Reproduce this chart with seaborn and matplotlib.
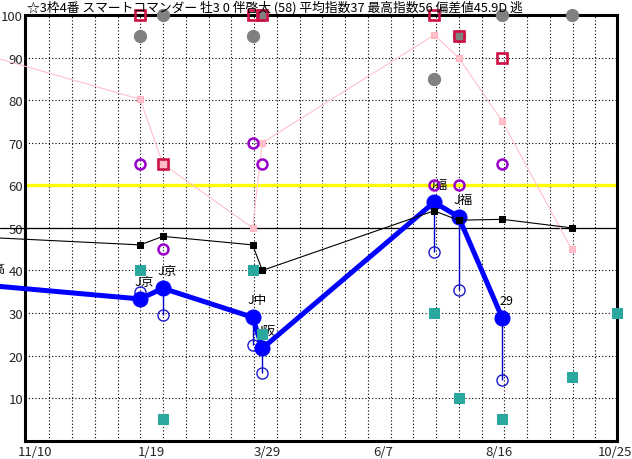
import numpy as np
import matplotlib
matplotlib.use("Agg")
import matplotlib.pyplot as plt
import seaborn as sns

# x = days counted from 11/10
race_day = [-26, 63.4, 77.2, 131.3, 137.2, 240.8, 255.6, 282.0]
index_val = [36.4, 33.3, 35.8, 29.0, 21.7, 56.0, 52.6, 28.8]
race_label = ["J高", "J京", "J京", "J中", "J阪", "J福", "J福", "29"]

low_day = [63.4, 77.2, 131.3, 137.2, 240.8, 255.6, 282.0]
low_val = [35.0, 29.6, 22.5, 15.9, 44.3, 35.5, 14.3]

avg_day = [-26, 63.4, 77.2, 131.3, 137.2, 240.8, 255.6, 282.0, 323.8]
avg_val = [47.7, 46, 48, 46, 40, 54, 51.8, 52, 50]

pink_day = [-26, 63.4, 77.2, 131.3, 137.2, 240.8, 255.6, 282.0, 323.8]
pink_val = [90.2, 80.2, 65, 50, 70, 95.3, 90, 75, 45]

purple_day = [63.4, 77.2, 131.3, 137.2, 240.8, 255.6, 282.0]
purple_val = [65, 45, 70, 65, 60, 60, 65]

red_day = [63.4, 77.2, 131.3, 137.2, 240.8, 255.6, 282.0]
red_val = [100, 65, 100, 100, 100, 95, 90]

gray_day = [63.4, 77.2, 131.3, 137.2, 240.8, 255.6, 282.0, 323.8]
gray_val = [95, 100, 95, 100, 85, 95, 100, 100]

teal_day = [63.4, 77.2, 131.3, 137.2, 240.8, 255.6, 282.0, 323.8, 351.1]
teal_val = [40, 5, 40, 25, 30, 10, 5, 15, 30]

tick_day = [0, 70, 140, 210, 280, 350]
tick_text = ["11/10", "1/19", "3/29", "6/7", "8/16", "10/25"]
y_ticks = [10, 20, 30, 40, 50, 60, 70, 80, 90, 100]

title = "☆3枠4番 スマートコマンダー 牡3 0 伴啓太 (58) 平均指数37 最高指数56 偏差値45.9D 逃"

sns.set_theme(style="white")
plt.rcParams["font.family"] = ["Noto Sans CJK JP", "DejaVu Sans"]

fig = plt.figure(figsize=(6.32, 4.60), dpi=100)
ax = fig.add_axes([25 / 632, 1 - 441.7 / 460, 592 / 632, 425.7 / 460])
ax.set_xlim(-6.03, 351.2)
ax.set_ylim(0, 100)

# dotted grid
ax.set_xticks(tick_day)
ax.set_xticklabels(tick_text, fontsize=9.5)
ax.set_xticks(np.arange(8.63, 340, 13.73), minor=True)
ax.set_yticks(y_ticks)
ax.set_yticklabels([str(v) for v in y_ticks], fontsize=9.5)
ax.grid(which="minor", axis="x", color="black", lw=0.8, ls=(0, (1, 2)))
ax.grid(which="major", axis="y", color="black", lw=0.8, ls=(0, (1, 2)))
ax.tick_params(length=0, pad=1.5)
ax.tick_params(axis="x", pad=3)
for s in ax.spines.values():
    s.set_color("black")
    s.set_linewidth(2.2)

ax.axhline(60, color="#ffff00", lw=2.4, zorder=2)
ax.axhline(50, xmin=-25 / 592, xmax=1, color="black", lw=0.9, zorder=2, clip_on=False)

# pink line
sns.lineplot(x=pink_day, y=pink_val, ax=ax, sort=False, estimator=None,
             color="#ffc0cb", lw=0.8, marker="s", markersize=4.5,
             markeredgecolor="#ffb6c1", clip_on=False, zorder=3)

# labels
for d, v, t in zip(race_day, index_val, race_label):
    ax.annotate(t, (d, v), xytext=(3, 12.5), textcoords="offset points",
                ha="center", va="center", fontsize=9, color="black",
                zorder=4, annotation_clip=False)

# main index (blue)
ax.vlines(low_day, low_val, index_val[1:], color="#0000cc", lw=1.0, zorder=5)
sns.lineplot(x=low_day, y=low_val, ax=ax, sort=False, estimator=None,
             linestyle="none", marker="o", markersize=8,
             markerfacecolor="none", markeredgecolor="#1a1acc",
             markeredgewidth=1.0, zorder=5)
sns.lineplot(x=race_day, y=index_val, ax=ax, sort=False, estimator=None,
             color="#0000ff", lw=3.6, marker="o", markersize=10.8,
             markeredgecolor="#0000ff", clip_on=False, zorder=6)

# average line (black)
sns.lineplot(x=avg_day, y=avg_val, ax=ax, sort=False, estimator=None,
             color="black", lw=0.8, marker="s", markersize=4.8,
             markeredgecolor="black", clip_on=False, zorder=7)

sns.lineplot(x=teal_day, y=teal_val, ax=ax, sort=False, estimator=None,
             linestyle="none", marker="s", markersize=6.5, color="#2aa8a0",
             markeredgecolor="#2aa8a0", clip_on=False, zorder=8)
sns.lineplot(x=gray_day, y=gray_val, ax=ax, sort=False, estimator=None,
             linestyle="none", marker="o", markersize=8.8, color="#808080",
             markeredgecolor="#808080", clip_on=False, zorder=8)
sns.lineplot(x=red_day, y=red_val, ax=ax, sort=False, estimator=None,
             linestyle="none", marker="s", markersize=7.4, markerfacecolor="none",
             markeredgecolor="#cc1144", markeredgewidth=1.9, clip_on=False, zorder=9)
sns.lineplot(x=purple_day, y=purple_val, ax=ax, sort=False, estimator=None,
             linestyle="none", marker="o", markersize=7.2, markerfacecolor="none",
             markeredgecolor="#9900cc", markeredgewidth=1.8, clip_on=False, zorder=9)

ax.set_xlabel("")
ax.set_ylabel("")
fig.text(27 / 632, 1 - 8 / 460, title, ha="left", va="center", fontsize=9.2, color="black")

fig.savefig("out.png", dpi=100, facecolor="white")
